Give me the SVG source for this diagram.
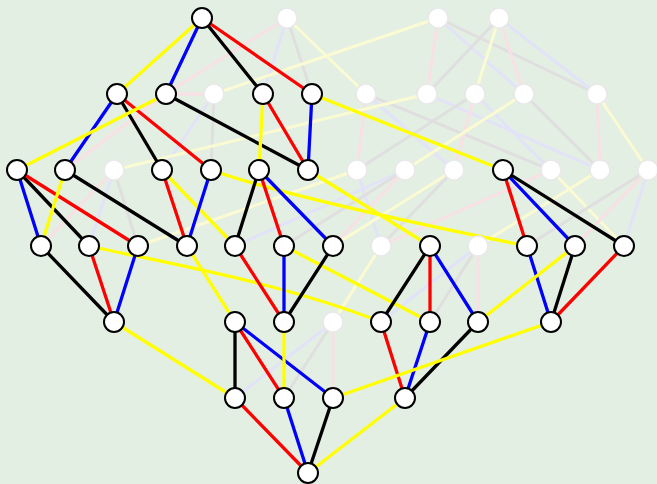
<svg xmlns="http://www.w3.org/2000/svg" width="657" height="484" viewBox="0 0 657 484">
<style>
.e line,.e path,.e polyline{fill:none;stroke-width:3.3;stroke-linecap:round}
.fe line,.fe path,.fe polyline{fill:none;stroke-width:3;stroke-linecap:round}
.y{stroke:#ffff00}.b{stroke:#0000ff}.k{stroke:#000000}.r{stroke:#ff0000}
.fy{stroke:#fbfbd3}.fb{stroke:#e2e3f8}.fk{stroke:#e0dfe0}.fr{stroke:#f9e0e4}
.n circle{fill:#ffffff;stroke:#000000;stroke-width:2}
.f circle{fill:#ffffff;stroke:#e8e8e8;stroke-width:1.5}
</style>
<rect width="657" height="484" fill="#e4efe3"/>
<g id="faded-connectors" class="fe">
<polyline class="fr" points="287,18 170,91 65,170"/>
<line class="fr" x1="166" y1="94" x2="214" y2="94"/>
<line class="fb" x1="287" y1="18" x2="263" y2="94"/>
<line class="fk" x1="287" y1="18" x2="312" y2="94"/>
<line class="fy" x1="287" y1="18" x2="366" y2="94"/>
<line class="fy" x1="438" y1="18" x2="214" y2="94"/>
<line class="fr" x1="438" y1="18" x2="427" y2="94"/>
<line class="fk" x1="438" y1="18" x2="597" y2="94"/>
<line class="fb" x1="438" y1="18" x2="524" y2="94"/>
<line class="fb" x1="499" y1="18" x2="597" y2="94"/>
<line class="fk" x1="499" y1="18" x2="427" y2="94"/>
<line class="fy" x1="499" y1="18" x2="475" y2="94"/>
<line class="fr" x1="499" y1="18" x2="524" y2="94"/>
<line class="fb" x1="214" y1="94" x2="162" y2="170"/>
<line class="fk" x1="214" y1="94" x2="211" y2="170"/>
<line class="fk" x1="366" y1="94" x2="551" y2="170"/>
<line class="fb" x1="366" y1="94" x2="454" y2="170"/>
<line class="fr" x1="366" y1="94" x2="357" y2="170"/>
<line class="fb" x1="427" y1="94" x2="600" y2="170"/>
<line class="fy" x1="427" y1="94" x2="114" y2="170"/>
<line class="fr" x1="475" y1="94" x2="454" y2="170"/>
<line class="fk" x1="475" y1="94" x2="357" y2="170"/>
<line class="fb" x1="475" y1="94" x2="551" y2="170"/>
<line class="fk" x1="524" y1="94" x2="600" y2="170"/>
<line class="fy" x1="524" y1="94" x2="405" y2="170"/>
<line class="fy" x1="597" y1="94" x2="648" y2="170"/>
<line class="fr" x1="597" y1="94" x2="600" y2="170"/>
<line class="fr" x1="114" y1="170" x2="41" y2="246"/>
<line class="fb" x1="114" y1="170" x2="89" y2="246"/>
<line class="fk" x1="114" y1="170" x2="138" y2="246"/>
<line class="fb" x1="357" y1="170" x2="381" y2="246"/>
<line class="fy" x1="357" y1="170" x2="138" y2="246"/>
<line class="fb" x1="405" y1="170" x2="235" y2="246"/>
<line class="fk" x1="405" y1="170" x2="284" y2="246"/>
<line class="fr" x1="405" y1="170" x2="333" y2="246"/>
<line class="fy" x1="454" y1="170" x2="333" y2="246"/>
<line class="fk" x1="454" y1="170" x2="381" y2="246"/>
<line class="fy" x1="551" y1="170" x2="624" y2="246"/>
<line class="fr" x1="551" y1="170" x2="381" y2="246"/>
<line class="fy" x1="600" y1="170" x2="478" y2="246"/>
<line class="fb" x1="648" y1="170" x2="624" y2="246"/>
<line class="fk" x1="648" y1="170" x2="527" y2="246"/>
<line class="fr" x1="648" y1="170" x2="575" y2="246"/>
<line class="fy" x1="381" y1="246" x2="333" y2="322"/>
<line class="fb" x1="478" y1="246" x2="381" y2="322"/>
<line class="fk" x1="478" y1="246" x2="430" y2="322"/>
<line class="fr" x1="478" y1="246" x2="478" y2="322"/>
<line class="fb" x1="333" y1="322" x2="235" y2="398"/>
<line class="fk" x1="333" y1="322" x2="284" y2="398"/>
<line class="fr" x1="333" y1="322" x2="333" y2="398"/>
</g>
<g id="connectors" class="e">
<line class="y" x1="202" y1="18" x2="117" y2="94"/>
<line class="b" x1="202" y1="18" x2="166" y2="94"/>
<line class="k" x1="202" y1="18" x2="263" y2="94"/>
<line class="r" x1="202" y1="18" x2="312" y2="94"/>
<line class="b" x1="117" y1="94" x2="65" y2="170"/>
<line class="k" x1="117" y1="94" x2="162" y2="170"/>
<line class="r" x1="117" y1="94" x2="211" y2="170"/>
<line class="y" x1="166" y1="94" x2="17" y2="170"/>
<line class="k" x1="166" y1="94" x2="308" y2="170"/>
<line class="y" x1="263" y1="94" x2="259" y2="170"/>
<line class="r" x1="263" y1="94" x2="308" y2="170"/>
<line class="b" x1="312" y1="94" x2="308" y2="170"/>
<line class="y" x1="312" y1="94" x2="503" y2="170"/>
<line class="b" x1="17" y1="170" x2="41" y2="246"/>
<line class="k" x1="17" y1="170" x2="89" y2="246"/>
<line class="r" x1="17" y1="170" x2="138" y2="246"/>
<line class="y" x1="65" y1="170" x2="41" y2="246"/>
<line class="k" x1="65" y1="170" x2="187" y2="246"/>
<line class="r" x1="162" y1="170" x2="187" y2="246"/>
<line class="y" x1="162" y1="170" x2="235" y2="246"/>
<line class="b" x1="211" y1="170" x2="187" y2="246"/>
<path class="y" d="M211,170 Q290,198 527,246"/>
<line class="k" x1="259" y1="170" x2="235" y2="246"/>
<line class="r" x1="259" y1="170" x2="284" y2="246"/>
<line class="b" x1="259" y1="170" x2="333" y2="246"/>
<line class="y" x1="308" y1="170" x2="430" y2="246"/>
<line class="r" x1="503" y1="170" x2="527" y2="246"/>
<line class="b" x1="503" y1="170" x2="575" y2="246"/>
<line class="k" x1="503" y1="170" x2="624" y2="246"/>
<line class="k" x1="41" y1="246" x2="114" y2="322"/>
<line class="r" x1="89" y1="246" x2="114" y2="322"/>
<path class="y" d="M89,246 C160,262 280,282 381,322"/>
<line class="b" x1="138" y1="246" x2="114" y2="322"/>
<line class="y" x1="187" y1="246" x2="235" y2="322"/>
<line class="r" x1="235" y1="246" x2="284" y2="322"/>
<line class="b" x1="284" y1="246" x2="284" y2="322"/>
<line class="y" x1="284" y1="246" x2="430" y2="322"/>
<line class="k" x1="333" y1="246" x2="284" y2="322"/>
<line class="k" x1="430" y1="246" x2="381" y2="322"/>
<line class="r" x1="430" y1="246" x2="430" y2="322"/>
<line class="b" x1="430" y1="246" x2="478" y2="322"/>
<line class="b" x1="527" y1="246" x2="551" y2="322"/>
<line class="k" x1="575" y1="246" x2="551" y2="322"/>
<line class="y" x1="575" y1="246" x2="478" y2="322"/>
<line class="r" x1="624" y1="246" x2="551" y2="322"/>
<line class="y" x1="114" y1="322" x2="235" y2="398"/>
<line class="k" x1="235" y1="322" x2="235" y2="398"/>
<line class="r" x1="235" y1="322" x2="284" y2="398"/>
<line class="b" x1="235" y1="322" x2="333" y2="398"/>
<line class="y" x1="284" y1="322" x2="284" y2="398"/>
<line class="r" x1="381" y1="322" x2="405" y2="398"/>
<line class="b" x1="430" y1="322" x2="405" y2="398"/>
<line class="k" x1="478" y1="322" x2="405" y2="398"/>
<line class="y" x1="551" y1="322" x2="333" y2="398"/>
<line class="r" x1="235" y1="398" x2="308" y2="473"/>
<line class="b" x1="284" y1="398" x2="308" y2="473"/>
<line class="k" x1="333" y1="398" x2="308" y2="473"/>
<line class="y" x1="405" y1="398" x2="308" y2="473"/>
</g>
<g id="faded-nodes" class="f">
<g id="fA"><circle cx="287" cy="18" r="10"/></g>
<g id="fB"><circle cx="438" cy="18" r="10"/></g>
<g id="fC"><circle cx="499" cy="18" r="10"/></g>
<g id="fD"><circle cx="214" cy="94" r="10"/></g>
<g id="fE"><circle cx="366" cy="94" r="10"/></g>
<g id="fF"><circle cx="427" cy="94" r="10"/></g>
<g id="fG"><circle cx="475" cy="94" r="10"/></g>
<g id="fH"><circle cx="524" cy="94" r="10"/></g>
<g id="fI"><circle cx="597" cy="94" r="10"/></g>
<g id="fJ"><circle cx="114" cy="170" r="10"/></g>
<g id="fK"><circle cx="357" cy="170" r="10"/></g>
<g id="fL"><circle cx="405" cy="170" r="10"/></g>
<g id="fM"><circle cx="454" cy="170" r="10"/></g>
<g id="fN"><circle cx="551" cy="170" r="10"/></g>
<g id="fO"><circle cx="600" cy="170" r="10"/></g>
<g id="fP"><circle cx="648" cy="170" r="10"/></g>
<g id="fQ"><circle cx="381" cy="246" r="10"/></g>
<g id="fR"><circle cx="478" cy="246" r="10"/></g>
<g id="fS"><circle cx="333" cy="322" r="10"/></g>
</g>
<g id="nodes" class="n">
<g id="n0"><circle cx="202" cy="18" r="10"/></g>
<g id="a1"><circle cx="117" cy="94" r="10"/></g>
<g id="a2"><circle cx="166" cy="94" r="10"/></g>
<g id="a3"><circle cx="263" cy="94" r="10"/></g>
<g id="a4"><circle cx="312" cy="94" r="10"/></g>
<g id="b1"><circle cx="17" cy="170" r="10"/></g>
<g id="b2"><circle cx="65" cy="170" r="10"/></g>
<g id="b3"><circle cx="162" cy="170" r="10"/></g>
<g id="b4"><circle cx="211" cy="170" r="10"/></g>
<g id="b5"><circle cx="259" cy="170" r="10"/></g>
<g id="b6"><circle cx="308" cy="170" r="10"/></g>
<g id="b7"><circle cx="503" cy="170" r="10"/></g>
<g id="c1"><circle cx="41" cy="246" r="10"/></g>
<g id="c2"><circle cx="89" cy="246" r="10"/></g>
<g id="c3"><circle cx="138" cy="246" r="10"/></g>
<g id="c4"><circle cx="187" cy="246" r="10"/></g>
<g id="c5"><circle cx="235" cy="246" r="10"/></g>
<g id="c6"><circle cx="284" cy="246" r="10"/></g>
<g id="c7"><circle cx="333" cy="246" r="10"/></g>
<g id="c8"><circle cx="430" cy="246" r="10"/></g>
<g id="c9"><circle cx="527" cy="246" r="10"/></g>
<g id="c10"><circle cx="575" cy="246" r="10"/></g>
<g id="c11"><circle cx="624" cy="246" r="10"/></g>
<g id="d1"><circle cx="114" cy="322" r="10"/></g>
<g id="d2"><circle cx="235" cy="322" r="10"/></g>
<g id="d3"><circle cx="284" cy="322" r="10"/></g>
<g id="d4"><circle cx="381" cy="322" r="10"/></g>
<g id="d5"><circle cx="430" cy="322" r="10"/></g>
<g id="d6"><circle cx="478" cy="322" r="10"/></g>
<g id="d7"><circle cx="551" cy="322" r="10"/></g>
<g id="e1"><circle cx="235" cy="398" r="10"/></g>
<g id="e2"><circle cx="284" cy="398" r="10"/></g>
<g id="e3"><circle cx="333" cy="398" r="10"/></g>
<g id="e4"><circle cx="405" cy="398" r="10"/></g>
<g id="f0"><circle cx="308" cy="473" r="10"/></g>
</g>
</svg>
